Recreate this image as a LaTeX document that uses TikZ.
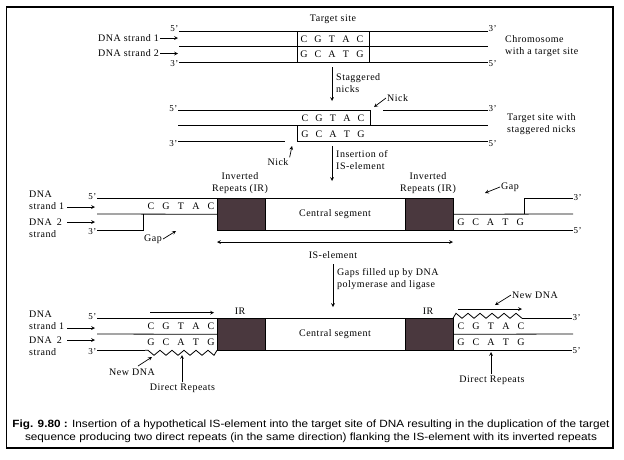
\documentclass[tikz,border=0pt]{standalone}
\usepackage{fontspec}
\setmainfont{Liberation Serif}[LetterSpace=5]
\newfontfamily\capfont{Liberation Sans}[FakeStretch=1.12]
\usetikzlibrary{decorations.pathmorphing}
\definecolor{irfill}{RGB}{74,56,62}

\begin{document}
\begin{tikzpicture}[
        x=1pt, y=-1pt,
        font=\fontsize{10}{12}\selectfont,
        strand/.style={line width=0.8pt},
        arrow/.style={->, >=stealth, line width=0.7pt},
        twoway/.style={<->, >=stealth, line width=0.7pt},
        base/.style={inner sep=0pt},
        prime/.style={inner sep=0.5pt, font=\fontsize{9}{10}\selectfont},
        note/.style={inner sep=1pt, align=left},
        irbox/.style={draw=black, line width=0.8pt, fill=irfill, outer sep=0pt,
            minimum width=48pt, minimum height=#1, inner sep=0pt},
        segbox/.style={draw=black, line width=0.8pt, fill=white, outer sep=0pt,
            minimum width=140pt, minimum height=#1, inner sep=0pt},
        newdna/.style={decorate, line width=0.8pt,
            decoration={zigzag, segment length=12pt, amplitude=2.5pt, raise=#1}}
    ]
        \useasboundingbox (0,0) rectangle (624,459);
        \draw[line width=1.2pt] (6.5,7) rectangle (613,448);

        % Cromosoma con sitio diana
        \draw[strand] (179,31) -- (488,31);
        \draw[strand] (179,46.5) -- (488,46.5);
        \draw[strand] (179,62) -- (488,62);
        \draw[strand] (297,31) -- (297,62);
        \draw[strand] (369,31) -- (369,62);
        \foreach \b [count=\i from 0] in {C,G,T,A,C}
            \node[base] (ta\i) at (304+14*\i,39) {\b};
        \foreach \b [count=\i from 0] in {G,C,A,T,G}
            \node[base] (tb\i) at (304+14*\i,54.5) {\b};
        \node[prime, anchor=east] (pa1) at (179,29) {5'};
        \node[prime, anchor=east] (pa2) at (179,64) {3'};
        \node[prime, anchor=west] (pa3) at (488,29) {3'};
        \node[prime, anchor=west] (pa4) at (488,64) {5'};
        \node[note, anchor=east] (dna1) at (160,38) {DNA strand 1};
        \node[note, anchor=east] (dna2) at (160,53.5) {DNA strand 2};
        \coordinate (in1) at (178,38);
        \coordinate (in2) at (178,53.5);
        \draw[arrow] (dna1.east) -- (in1);
        \draw[arrow] (dna2.east) -- (in2);
        \node[note] (target) at (333,19) {Target site};
        \node[note, anchor=west] (chrom) at (504,46.5) {Chromosome\\with a target site};

        % Cortes escalonados
        \coordinate (st1) at (332,67);
        \coordinate (st2) at (332,101);
        \draw[arrow] (st1) -- (st2);
        \node[note, anchor=west] (stag) at (335,83) {Staggered\\nicks};

        \draw[strand] (178,110.7) -- (370,110.7) -- (370,125.7);
        \draw[strand] (383,110.7) -- (488,110.7);
        \draw[strand] (178,125.7) -- (488,125.7);
        \draw[strand] (178,141.7) -- (285,141.7);
        \draw[strand] (297,125.7) -- (297,141.7) -- (488,141.7);
        \foreach \b [count=\i from 0] in {C,G,T,A,C}
            \node[base] (na\i) at (305+14*\i,118.5) {\b};
        \foreach \b [count=\i from 0] in {G,C,A,T,G}
            \node[base] (nb\i) at (305+14*\i,134) {\b};
        \node[prime, anchor=east] (pb1) at (178,109) {5'};
        \node[prime, anchor=east] (pb2) at (178,143.5) {3'};
        \node[prime, anchor=west] (pb3) at (488,109) {3'};
        \node[prime, anchor=west] (pb4) at (488,143.5) {5'};
        \node[note, anchor=west] (nick1) at (386,98) {Nick};
        \coordinate (n1) at (374,107);
        \draw[arrow] (nick1.west) -- (n1);
        \node[note] (nick2) at (278,162) {Nick};
        \coordinate (n2) at (292,146);
        \draw[arrow] (nick2.north east) -- (n2);
        \node[note, anchor=west] (stagsite) at (506,124) {Target site with\\staggered nicks};

        % Insercion del elemento IS
        \coordinate (is1) at (332,146);
        \coordinate (is2) at (332,181);
        \draw[arrow] (is1) -- (is2);
        \node[note, anchor=west] (insert) at (335,160.5) {Insertion of\\IS-element};

        \node[segbox=31.5pt] (cen3) at (335,214.25) {Central segment};
        \node[irbox=31.5pt, anchor=east] (irl3) at (cen3.west) {};
        \node[irbox=31.5pt, anchor=west] (irr3) at (cen3.east) {};
        \draw[strand] (97,198.5) -- (irl3.north west);
        \draw[strand] (97,214) -- (irl3.west);
        \draw[strand] (97,230) -- (143,230) -- (143,214);
        \draw[strand] (irr3.east) -- (573,214);
        \draw[strand] (irr3.south east) -- (573,230);
        \draw[strand] (524,214) -- (524,198) -- (573,198);
        \foreach \b [count=\i from 0] in {C,G,T,A,C}
            \node[base] (ca\i) at (151+15*\i,206.5) {\b};
        \foreach \b [count=\i from 0] in {G,C,A,T,G}
            \node[base] (cb\i) at (461+14.8*\i,222) {\b};
        \node[prime, anchor=east] (pc1) at (97,197) {5'};
        \node[prime, anchor=east] (pc2) at (97,231.5) {3'};
        \node[prime, anchor=west] (pc3) at (573,198) {3'};
        \node[prime, anchor=west] (pc4) at (573,231) {5'};
        \node[note, anchor=west] (dna3) at (28,200) {DNA\\strand 1};
        \node[note, anchor=west] (dna4) at (28,228.5) {DNA\enspace2\\strand};
        \coordinate (in3) at (95,207);
        \coordinate (in4) at (95,222);
        \draw[arrow] (67,207) -- (in3);
        \draw[arrow] (67,222) -- (in4);
        \node[note, align=center] (ir1) at (240,183) {Inverted\\Repeats (IR)};
        \node[note, align=center] (ir2) at (428,183) {Inverted\\Repeats (IR)};
        \node[note, anchor=west] (gap1) at (500,187) {Gap};
        \coordinate (g1) at (485,193);
        \draw[arrow] (gap1.west) -- (g1);
        \node[note] (gap2) at (153,239) {Gap};
        \coordinate (g2) at (176,231);
        \draw[arrow] (gap2.east) -- (g2);
        \draw[twoway] (irl3.west |- 0,242) -- (irr3.east |- 0,242);
        \node[note] (iselem) at (333,255) {IS-element};

        % Relleno de huecos
        \coordinate (gf1) at (333,264);
        \coordinate (gf2) at (333,307);
        \draw[arrow] (gf1) -- (gf2);
        \node[note, anchor=west] (fill) at (336,279.5) {Gaps filled up by DNA\\polymerase and ligase};

        \node[segbox=32pt] (cen4) at (335,334.3) {Central segment};
        \node[irbox=32pt, anchor=east] (irl4) at (cen4.west) {};
        \node[irbox=32pt, anchor=west] (irr4) at (cen4.east) {};
        \draw[strand] (97,318.3) -- (irl4.north west);
        \draw[strand] (97,334) -- (irl4.west);
        \draw[strand] (97,350.3) -- (145,350.3);
        \draw[newdna=-2.5pt] (145,350.3) -- (irl4.south west);
        \draw[newdna=2.5pt] (irr4.north east) -- (522,318.3);
        \draw[strand] (522,318.3) -- (572,318.3);
        \draw[strand] (irr4.east) -- (573,334);
        \draw[strand] (irr4.south east) -- (572,350.3);
        \foreach \b [count=\i from 0] in {C,G,T,A,C}
            \node[base] (da\i) at (151+15*\i,326.5) {\b};
        \foreach \b [count=\i from 0] in {G,C,A,T,G}
            \node[base] (db\i) at (151+15*\i,342) {\b};
        \foreach \b [count=\i from 0] in {C,G,T,A,C}
            \node[base] (ea\i) at (461+15*\i,326.5) {\b};
        \foreach \b [count=\i from 0] in {G,C,A,T,G}
            \node[base] (eb\i) at (461+15*\i,342) {\b};
        \node[prime, anchor=east] (pd1) at (97,317) {5'};
        \node[prime, anchor=east] (pd2) at (97,352) {3'};
        \node[prime, anchor=west] (pd3) at (572,318) {3'};
        \node[prime, anchor=west] (pd4) at (572,351) {5'};
        \node[note, anchor=west] (dna5) at (28,320.5) {DNA\\strand 1};
        \node[note, anchor=west] (dna6) at (28,346.5) {DNA\enspace2\\strand};
        \coordinate (in5) at (95,328);
        \coordinate (in6) at (95,340);
        \draw[arrow] (67,328) -- (in5);
        \draw[arrow] (67,340) -- (in6);
        \node[note] (ir3) at (240,311) {IR};
        \node[note] (ir4) at (428,311) {IR};
        \coordinate (dl1) at (150,312.7);
        \coordinate (dl2) at (214,312.7);
        \draw[arrow] (dl1) -- (dl2);
        \coordinate (dr1) at (458,309);
        \coordinate (dr2) at (522,309);
        \draw[arrow] (dr1) -- (dr2);
        \node[note] (new1) at (132,372) {New DNA};
        \coordinate (nw1) at (152,357);
        \draw[arrow] (138,366) -- (nw1);
        \node[note] (rep1) at (182.5,388) {Direct Repeats};
        \coordinate (rp1) at (182,355);
        \draw[arrow] (rep1.north -| rp1) -- (rp1);
        \node[note] (new2) at (535,295) {New DNA};
        \coordinate (nw2) at (495,305);
        \draw[arrow] (new2.west) -- (nw2);
        \node[note] (rep2) at (492,380) {Direct Repeats};
        \coordinate (rp2) at (491,352);
        \draw[arrow] (rep2.north -| rp2) -- (rp2);

        % Pie de figura
        \node[font=\capfont\fontsize{10.5}{13}\selectfont, align=center, inner sep=0pt] (cap) at (311,431)
            {\textbf{Fig. 9.80 :} Insertion of a hypothetical IS-element into the target site of DNA resulting in the duplication of the target\\
             sequence producing two direct repeats (in the same direction) flanking the IS-element with its inverted repeats};

    \end{tikzpicture}
\end{document}
